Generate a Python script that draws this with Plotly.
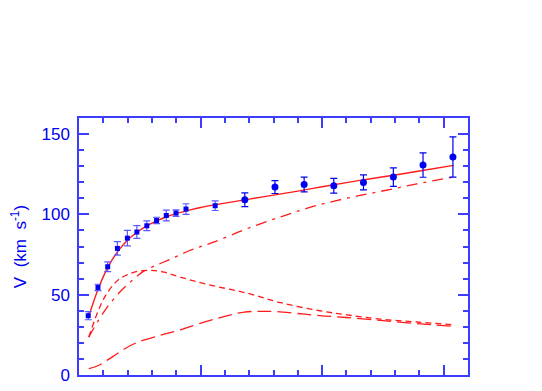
import plotly.graph_objects as go

# inner (high resolution) rotation curve points
r_in = [0.38, 0.78, 1.18, 1.58, 1.99, 2.38, 2.79, 3.19, 3.59, 3.99, 4.40, 5.60]
v_in = [36.9, 54.5, 67.4, 78.8, 85.2, 89.0, 92.9, 96.2, 99.3, 100.8, 103.3, 105.4]
e_in = [2.5, 2.0, 3.0, 4.2, 4.8, 4.0, 3.0, 2.0, 3.3, 2.0, 3.3, 3.0]

# outer points
r_out = [6.82, 8.06, 9.26, 10.48, 11.70, 12.93, 14.15, 15.38]
v_out = [109.1, 117.0, 118.6, 117.8, 119.9, 123.2, 130.7, 135.7]
e_out = [4.3, 4.0, 4.6, 4.6, 4.7, 5.8, 7.6, 12.5]

# model components
r_tot = [0.4, 0.8, 1.2, 1.6, 2.0, 2.4, 2.8, 3.2, 3.6, 4.0, 4.5, 5.0, 6.0, 7.0, 8.0, 9.0, 10.0, 11.0, 12.0, 13.0, 14.0, 15.4]
v_tot = [36.5, 54.0, 67.5, 77.0, 84.0, 89.0, 93.0, 96.0, 98.5, 100.5, 102.5, 104.3, 107.0, 109.5, 112.0, 114.5, 117.2, 119.8, 122.2, 124.5, 127.0, 130.5]

r_halo = [0.4, 0.8, 1.2, 1.7, 2.2, 2.65, 3.2, 3.75, 4.55, 5.5, 6.9, 8.3, 9.6, 11.0, 12.4, 13.9, 15.4]
v_halo = [23.6, 34.0, 43.0, 52.0, 59.0, 64.5, 68.5, 72.0, 77.5, 82.5, 91.0, 98.5, 104.8, 110.0, 114.3, 119.0, 123.2]

r_disk = [0.4, 0.86, 1.2, 1.62, 2.0, 2.4, 3.0, 3.5, 4.15, 5.25, 6.9, 8.3, 9.9, 11.0, 12.4, 13.9, 15.4]
v_disk = [23.6, 42.5, 52.0, 59.3, 62.5, 64.5, 65.1, 64.0, 61.0, 56.5, 51.0, 45.0, 40.0, 37.5, 34.8, 33.0, 31.3]

r_gas = [0.4, 0.86, 1.4, 1.9, 2.4, 3.3, 4.2, 5.25, 6.0, 6.8, 7.5, 8.1, 9.0, 9.9, 11.0, 12.4, 13.9, 15.4]
v_gas = [3.9, 6.4, 11.6, 16.5, 20.3, 24.5, 28.2, 33.4, 36.5, 39.2, 39.6, 39.5, 38.3, 37.0, 35.8, 34.0, 32.0, 30.3]

red = "#ff1a1a"
blue = "#0000f0"
axblue = "#3d3dff"
font_family = "Liberation Sans, Arial, sans-serif"

fig = go.Figure()

fig.add_trace(go.Scatter(x=r_gas, y=v_gas, mode="lines",
                         line=dict(color=red, width=1.3, dash="14px,6px", shape="spline")))
fig.add_trace(go.Scatter(x=r_disk, y=v_disk, mode="lines",
                         line=dict(color=red, width=1.3, dash="6px,4px", shape="spline")))
fig.add_trace(go.Scatter(x=r_halo, y=v_halo, mode="lines",
                         line=dict(color=red, width=1.3, dash="11px,6px,3px,6px", shape="spline")))
fig.add_trace(go.Scatter(x=r_tot, y=v_tot, mode="lines",
                         line=dict(color=red, width=1.4, shape="spline")))

fig.add_trace(go.Scatter(x=r_in, y=v_in, mode="markers",
                         marker=dict(symbol="square", size=5, color=blue),
                         error_y=dict(type="data", array=e_in, color="#5a5aff",
                                      thickness=1.2, width=3.5)))
fig.add_trace(go.Scatter(x=r_out, y=v_out, mode="markers",
                         marker=dict(symbol="circle", size=7, color=blue),
                         error_y=dict(type="data", array=e_out, color=blue,
                                      thickness=1.2, width=3.5)))

axis_common = dict(
    showgrid=False, zeroline=False, showline=True, linecolor=axblue, linewidth=1.5,
    mirror="allticks", ticks="inside", tickcolor=axblue, tickwidth=1.5, ticklen=10,
    tickfont=dict(family=font_family, size=17, color=blue),
    automargin=False,
)

fig.update_xaxes(range=[0, 16], tick0=0, dtick=5, ticklabelstandoff=6,
                 minor=dict(ticks="inside", dtick=1, ticklen=5, tickcolor=axblue, tickwidth=1.5),
                 **axis_common)
fig.update_yaxes(range=[0, 160], tick0=0, dtick=50, ticklabelstandoff=4,
                 minor=dict(ticks="inside", dtick=10, ticklen=5, tickcolor=axblue, tickwidth=1.5),
                 title=dict(text="V  (km  s<sup>-1</sup>)", standoff=12,
                            font=dict(family=font_family, size=17, color=blue)),
                 **axis_common)

# the page body adds an 8px offset, so margins are shifted accordingly
fig.update_layout(
    width=542, height=391,
    margin=dict(l=71, r=82, t=110, b=24),
    plot_bgcolor="white", paper_bgcolor="white",
    showlegend=False,
)

fig.write_html("out.html")
